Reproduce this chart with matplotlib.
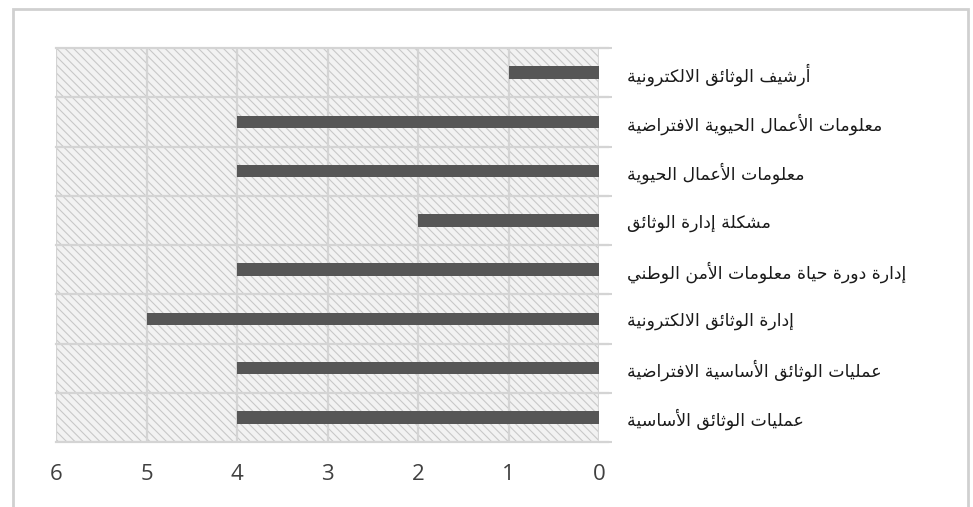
import matplotlib
matplotlib.use('Agg')
import matplotlib.pyplot as plt
from matplotlib.patches import Rectangle
import numpy as np

# top to bottom, as in the picture
LABELS = ['أرشيف الوثائق الالكترونية',
          'معلومات الأعمال الحيوية الافتراضية',
          'معلومات الأعمال الحيوية',
          'مشكلة إدارة الوثائق',
          'إدارة دورة حياة معلومات الأمن الوطني',
          'إدارة الوثائق الالكترونية',
          'عمليات الوثائق الأساسية الافتراضية',
          'عمليات الوثائق الأساسية']
VALUES = [1, 4, 4, 2, 4, 5, 4, 4]
XTICKS = [0, 1, 2, 3, 4, 5, 6]

# arabic presentation forms: (isolated, final, initial, medial)
FORMS = {
    'ا': (0xFE8D, 0xFE8E), 'أ': (0xFE83, 0xFE84), 'إ': (0xFE87, 0xFE88),
    'ئ': (0xFE89, 0xFE8A, 0xFE8B, 0xFE8C), 'ة': (0xFE93, 0xFE94),
    'ت': (0xFE95, 0xFE96, 0xFE97, 0xFE98), 'ث': (0xFE99, 0xFE9A, 0xFE9B, 0xFE9C),
    'ح': (0xFEA1, 0xFEA2, 0xFEA3, 0xFEA4), 'د': (0xFEA9, 0xFEAA),
    'ر': (0xFEAD, 0xFEAE), 'س': (0xFEB1, 0xFEB2, 0xFEB3, 0xFEB4),
    'ش': (0xFEB5, 0xFEB6, 0xFEB7, 0xFEB8), 'ض': (0xFEBD, 0xFEBE, 0xFEBF, 0xFEC0),
    'ط': (0xFEC1, 0xFEC2, 0xFEC3, 0xFEC4), 'ع': (0xFEC9, 0xFECA, 0xFECB, 0xFECC),
    'ف': (0xFED1, 0xFED2, 0xFED3, 0xFED4), 'ق': (0xFED5, 0xFED6, 0xFED7, 0xFED8),
    'ك': (0xFED9, 0xFEDA, 0xFEDB, 0xFEDC), 'ل': (0xFEDD, 0xFEDE, 0xFEDF, 0xFEE0),
    'م': (0xFEE1, 0xFEE2, 0xFEE3, 0xFEE4), 'ن': (0xFEE5, 0xFEE6, 0xFEE7, 0xFEE8),
    'و': (0xFEED, 0xFEEE), 'ي': (0xFEF1, 0xFEF2, 0xFEF3, 0xFEF4),
}
LAM_ALEF = {'ا': (0xFEFB, 0xFEFC), 'أ': (0xFEF7, 0xFEF8), 'إ': (0xFEF9, 0xFEFA)}


def shape(text):
    toks = []
    i = 0
    while i < len(text):
        c = text[i]
        if c == 'ل' and i + 1 < len(text) and text[i + 1] in LAM_ALEF:
            toks.append(LAM_ALEF[text[i + 1]])
            i += 2
        else:
            toks.append(FORMS.get(c, c))
            i += 1
    out = []
    for k, t in enumerate(toks):
        if isinstance(t, str):
            out.append(t)
            continue
        prev = k > 0 and isinstance(toks[k - 1], tuple) and len(toks[k - 1]) == 4
        nxt = len(t) == 4 and k + 1 < len(toks) and isinstance(toks[k + 1], tuple)
        if prev and nxt:
            g = t[3]
        elif prev:
            g = t[1]
        elif nxt:
            g = t[2]
        else:
            g = t[0]
        out.append(chr(g))
    return ''.join(out)[::-1]


plt.rcParams['hatch.linewidth'] = 0.8
GRID = '#d4d4d4'

fig = plt.figure(figsize=(9.73, 5.07), dpi=100)
fig.patches.append(Rectangle((13 / 973, -0.05), 955 / 973, 1.05 - 9 / 507,
                             transform=fig.transFigure, fill=False,
                             edgecolor='#d0d0d0', linewidth=2))
ax = fig.add_axes([56 / 973, 1 - 442 / 507, 543 / 973, 394 / 507])

ax.add_patch(Rectangle((0, 0), 1, 1, transform=ax.transAxes, facecolor='#f2f2f2',
                       edgecolor='#c8c8c8', linewidth=0, hatch='\\\\\\\\', zorder=0))

y = np.arange(len(LABELS))
ax.barh(y, VALUES, height=0.25, color='#565656', zorder=3)

ax.set_xlim(6, 0)
ax.set_ylim(len(LABELS) - 0.5, -0.5)
ax.set_xticks(XTICKS)
ax.set_xticklabels([str(v) for v in XTICKS], fontsize=16, color='#404040',
                   family='Open Sans')
ax.tick_params(axis='x', length=0, pad=16)

ax.yaxis.tick_right()
ax.set_yticks(y)
ax.set_yticklabels([shape(s) for s in LABELS], fontsize=12.5, color='#1a1a1a',
                   family='DejaVu Sans')
ax.tick_params(axis='y', which='major', length=0, pad=20)
ax.set_yticks(np.arange(-0.5, len(LABELS)), minor=True)
ax.tick_params(axis='y', which='minor', length=9, width=1.5, color=GRID,
               direction='out', right=True, left=False)

for v in XTICKS:
    ax.axvline(v, color=GRID, lw=1.6, zorder=1)
for b in np.arange(-0.5, len(LABELS)):
    ax.plot([0, 1.016], [b, b], transform=ax.get_yaxis_transform(), color=GRID,
            lw=1.6, zorder=1, clip_on=False)

for s in ax.spines.values():
    s.set_visible(False)

fig.savefig('out.png', dpi=100)
